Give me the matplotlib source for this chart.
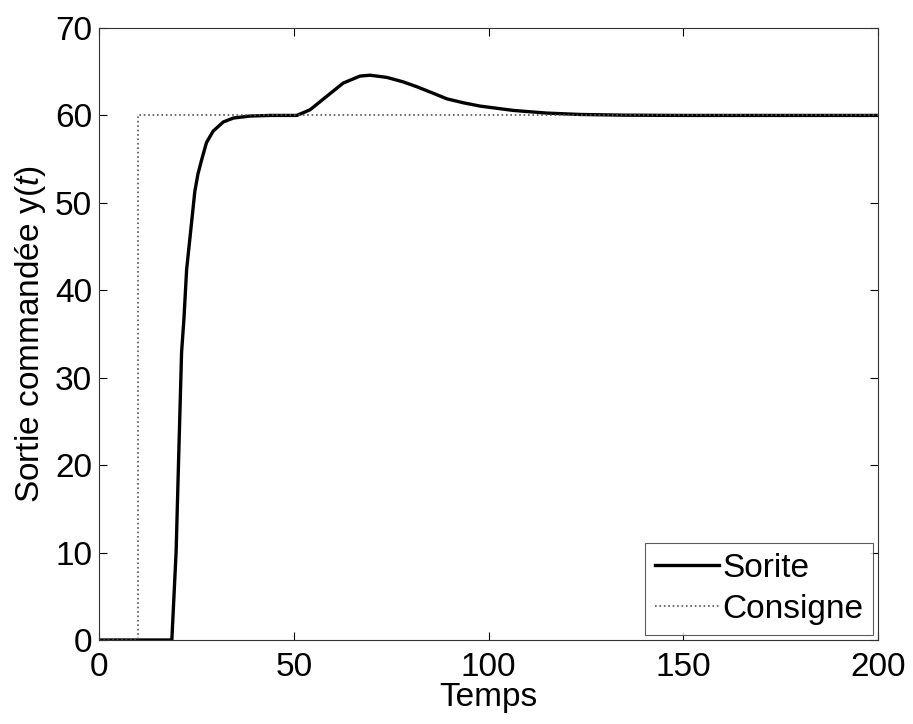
import numpy as np
import matplotlib.pyplot as plt

plt.rcParams['font.family'] = ['Liberation Sans', 'DejaVu Sans']
plt.rcParams['mathtext.fontset'] = 'custom'
plt.rcParams['mathtext.it'] = 'Liberation Sans:italic'
plt.rcParams['mathtext.rm'] = 'Liberation Sans'

# sortie y(t), points
t_sortie = [0, 18.7, 19.8, 20.4, 21.2, 21.8, 22.5, 23.4, 24.6, 25.4, 26.4, 27.6,
            29.3, 31.9, 34.5, 38.8, 44, 50.8, 54.2, 58.5, 62.7, 67.0, 69.6,
            73.9, 78.0, 81.5, 86.0, 89.3, 93.5, 97.8, 106.4, 114.9, 123.5, 135, 150, 200]
y_sortie = [0, 0, 10.1, 20.0, 32.9, 36.7, 42.4, 46.2, 51.3, 53.3, 55.0, 56.9,
            58.2, 59.25, 59.7, 59.93, 60.0, 60.0, 60.65, 62.2, 63.7, 64.5, 64.6,
            64.35, 63.85, 63.3, 62.5, 61.9, 61.45, 61.07, 60.57, 60.27, 60.11, 60.03, 60.0, 60.0]

# consigne (echelon)
t_consigne = [0, 10, 10, 200]
y_consigne = [0, 0, 60, 60]

fig = plt.figure(figsize=(9.13, 7.24), dpi=100)
ax = fig.add_axes([99/913, 1-640/724, 779/913, 612/724])

ax.plot(t_sortie, y_sortie, color='black', lw=2.4, label='Sorite')
ax.plot(t_consigne, y_consigne, color='#555555', lw=1.2, ls=':', label='Consigne')

ax.set_xlim(0, 200)
ax.set_ylim(0, 70)
ax.set_xticks([0, 50, 100, 150, 200])
ax.set_yticks(range(0, 71, 10))
ax.tick_params(direction='in', top=True, right=True, labelsize=24, length=6, width=0.8)
ax.tick_params(axis='x', pad=9)
ax.tick_params(axis='y', pad=5)
for s in ax.spines.values():
    s.set_linewidth(0.8)
    s.set_color('#333333')

ax.set_xlabel('Temps', fontsize=24, labelpad=-1)
ax.set_ylabel('Sortie commandée y($\\mathit{t}$)', fontsize=24, labelpad=5)

leg = ax.legend(loc='lower right', fontsize=24, frameon=True, fancybox=False,
                edgecolor='#333333', borderaxespad=0.15, handlelength=1.9,
                handletextpad=0.1, borderpad=0.3, labelspacing=0.3)
leg.get_frame().set_linewidth(0.8)

plt.savefig('out.png', dpi=100)
